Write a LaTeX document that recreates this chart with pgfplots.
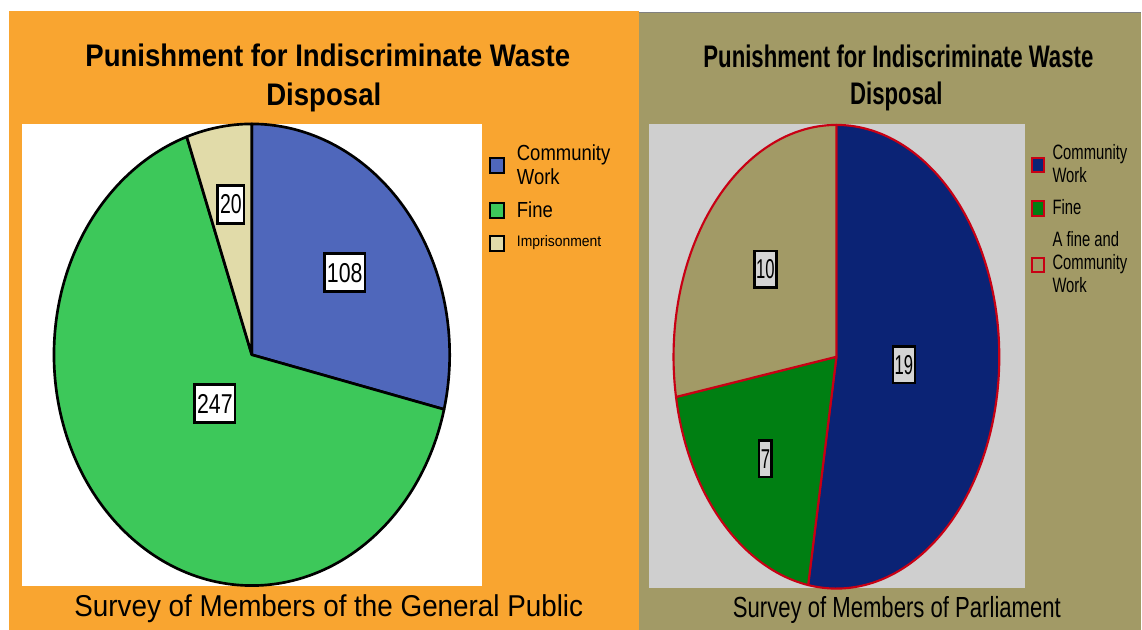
\documentclass[border=0pt]{standalone}
\usepackage{pgfplots}
\pgfplotsset{compat=1.18}
\usepackage{fontspec}
\setmainfont{Liberation Sans}
\usepackage{graphicx}
\definecolor{orangebg}{HTML}{F9A530}
\definecolor{olivebg}{HTML}{A29A66}
\definecolor{plotgrey}{HTML}{CFCFCF}
\definecolor{cwblue}{HTML}{4F67BB}
\definecolor{finegreen}{HTML}{3DC85A}
\definecolor{impbeige}{HTML}{E1DBA9}
\definecolor{navy}{HTML}{0B2375}
\definecolor{dkgreen}{HTML}{007F12}
\definecolor{edgered}{HTML}{C80014}
\newcommand\fs[1]{\fontsize{#1}{#1}\selectfont}
\begin{document}
\begin{tikzpicture}
% data: survey of members of the general public
\def\cwA{108}\def\fnA{247}\def\imA{20}
\pgfmathsetmacro\totA{\cwA+\fnA+\imA}
\pgfmathsetmacro\aA{90-(\cwA/\totA)*360}
\pgfmathsetmacro\bA{\aA-(\fnA/\totA)*360}
% data: survey of members of parliament
\def\cwB{19}\def\fnB{7}\def\cfB{10}
\pgfmathsetmacro\totB{\cwB+\fnB+\cfB}
\pgfmathsetmacro\aB{90-(\cwB/\totB)*360}
\pgfmathsetmacro\bB{\aB-(\fnB/\totB)*360}
\begin{axis}[width=856.5pt, height=472.5pt, scale only axis,
  xmin=0, xmax=1142, ymin=0, ymax=630, y dir=reverse,
  axis lines=none, ticks=none, clip=false]
% backgrounds
\fill[white] (axis cs:0,0) rectangle (axis cs:1142,630);
\fill[orangebg] (axis cs:9,11) rectangle (axis cs:639,630);
\fill[olivebg] (axis cs:639,12) rectangle (axis cs:1142,630);
\draw[gray, line width=1.2pt] (axis cs:639,12.5) -- (axis cs:1142,12.5);
\fill[white] (axis cs:22,124) rectangle (axis cs:482,586);
\fill[plotgrey] (axis cs:649,124) rectangle (axis cs:1026,588);
% left pie
\addplot[fill=cwblue, draw=black, line width=2pt, line join=round, domain=\aA:90, samples=80, variable=\t]
  ({252+198*cos(\t)}, {355-231*sin(\t)}) -- (axis cs:252,355) -- cycle;
\addplot[fill=finegreen, draw=black, line width=2pt, line join=round, domain=\bA:\aA, samples=160, variable=\t]
  ({252+198*cos(\t)}, {355-231*sin(\t)}) -- (axis cs:252,355) -- cycle;
\addplot[fill=impbeige, draw=black, line width=2pt, line join=round, domain=-270:\bA, samples=30, variable=\t]
  ({252+198*cos(\t)}, {355-231*sin(\t)}) -- (axis cs:252,355) -- cycle;
% right pie
\addplot[fill=navy, draw=edgered, line width=1.6pt, line join=round, domain=\aB:90, samples=160, variable=\t]
  ({837+163*cos(\t)}, {357-232*sin(\t)}) -- (axis cs:837,357) -- cycle;
\addplot[fill=dkgreen, draw=edgered, line width=1.6pt, line join=round, domain=\bB:\aB, samples=60, variable=\t]
  ({837+163*cos(\t)}, {357-232*sin(\t)}) -- (axis cs:837,357) -- cycle;
\addplot[fill=olivebg, draw=edgered, line width=1.6pt, line join=round, domain=-270:\bB, samples=90, variable=\t]
  ({837+163*cos(\t)}, {357-232*sin(\t)}) -- (axis cs:837,357) -- cycle;
% left value labels
\tikzset{lbl/.style={draw=black, fill=white, line width=2pt, inner xsep=1.8pt, inner ysep=0pt, minimum height=28.5pt, font=\fs{19.5pt}}}
\node[lbl] at (axis cs:345,273) {\scalebox{0.82}[1.05]{\cwA}};
\node[lbl] at (axis cs:215,404) {\scalebox{0.82}[1.05]{\fnA}};
\node[lbl] at (axis cs:231,204.5) {\scalebox{0.75}[1.05]{\imA}};
% right value labels
\tikzset{rlbl/.style={draw=black, fill=plotgrey!90!white, line width=1.8pt, inner xsep=1.2pt, inner ysep=0pt, minimum height=27.5pt, font=\fs{19.5pt}}}
\node[rlbl] at (axis cs:766,269.5) {\scalebox{0.64}[1.05]{\cfB}};
\node[rlbl] at (axis cs:904.5,365) {\scalebox{0.64}[1.05]{\cwB}};
\node[rlbl] at (axis cs:766,459) {\scalebox{0.64}[1.05]{\fnB}};
% titles
\node[anchor=base, font=\bfseries\fs{22.5pt}] at (axis cs:328,67) {\scalebox{0.92}[1.04]{Punishment for Indiscriminate Waste}};
\node[anchor=base, font=\bfseries\fs{22.5pt}] at (axis cs:324,106) {\scalebox{0.92}[1.04]{Disposal}};
\node[anchor=base, font=\bfseries\fs{22.5pt}] at (axis cs:899,68) {\scalebox{0.74}[1.04]{Punishment for Indiscriminate Waste}};
\node[anchor=base, font=\bfseries\fs{22.5pt}] at (axis cs:897,105) {\scalebox{0.74}[1.04]{Disposal}};
% subtitles
\node[anchor=base, font=\fs{21.75pt}] at (axis cs:329,617) {\scalebox{0.96}[1.04]{Survey of Members of the General Public}};
\node[anchor=base, font=\fs{21pt}] at (axis cs:897.5,618) {\scalebox{0.79}[1.04]{Survey of Members of Parliament}};
% left legend
\draw[black, line width=1.6pt, fill=cwblue] (axis cs:490.5,158) rectangle (axis cs:504.5,173);
\draw[black, line width=1.6pt, fill=finegreen] (axis cs:490.5,203) rectangle (axis cs:504.5,218);
\draw[black, line width=1.6pt, fill=impbeige] (axis cs:490.5,236) rectangle (axis cs:504.5,251);
\tikzset{lg/.style={anchor=base west, inner sep=0pt, font=\fs{15.75pt}}}
\node[lg] at (axis cs:517,161) {\scalebox{0.88}[1.04]{Community}};
\node[lg] at (axis cs:517,185) {\scalebox{0.88}[1.04]{Work}};
\node[lg] at (axis cs:517,218) {\scalebox{0.88}[1.04]{Fine}};
\node[lg, font=\fs{11pt}] at (axis cs:517,247) {\scalebox{0.95}[1.04]{Imprisonment}};
% right legend
\draw[edgered, line width=1.6pt, fill=navy] (axis cs:1033,158) rectangle (axis cs:1045,172);
\draw[edgered, line width=1.6pt, fill=dkgreen] (axis cs:1033,201) rectangle (axis cs:1045,216);
\draw[edgered, line width=1.6pt, fill=olivebg] (axis cs:1033,258) rectangle (axis cs:1045,272);
\tikzset{rg/.style={anchor=base west, inner sep=0pt, font=\fs{15pt}}}
\node[rg] at (axis cs:1053,160) {\scalebox{0.74}[1.04]{Community}};
\node[rg] at (axis cs:1053,183) {\scalebox{0.74}[1.04]{Work}};
\node[rg] at (axis cs:1053,215) {\scalebox{0.74}[1.04]{Fine}};
\node[rg] at (axis cs:1053,247) {\scalebox{0.74}[1.04]{A fine and}};
\node[rg] at (axis cs:1053,270) {\scalebox{0.74}[1.04]{Community}};
\node[rg] at (axis cs:1053,293) {\scalebox{0.74}[1.04]{Work}};
\end{axis}
\end{tikzpicture}
\end{document}
